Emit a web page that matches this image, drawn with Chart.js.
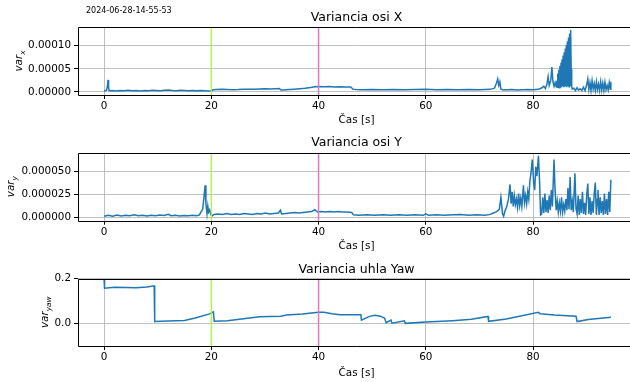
<!DOCTYPE html>
<html>
<head>
<meta charset="utf-8">
<script src="https://cdn.jsdelivr.net/npm/chart.js@4.4.1/dist/chart.umd.min.js"></script>
<style>
  html, body { margin: 0; padding: 0; background: #fff; width: 630px; height: 382px; overflow: hidden; position: relative; }
  .panel { position: absolute; left: 0; width: 640px; }
</style>
</head>
<body>
<div class="panel" style="top:0px;height:130px"><canvas id="chartX" width="640" height="130" style="width:640px;height:130px"></canvas></div>
<div class="panel" style="top:130px;height:126px"><canvas id="chartY" width="640" height="126" style="width:640px;height:126px"></canvas></div>
<div class="panel" style="top:256px;height:126px"><canvas id="chartYaw" width="640" height="126" style="width:640px;height:126px"></canvas></div>
<script>
const FONT = '"DejaVu Sans", sans-serif';
const stamp = '2024-06-28-14-55-53';
const xTicks = [0, 20, 40, 60, 80];
const markerTimes = [20, 40];
const markerColors = ['#adff2f', '#e377c2'];

const ticksX = [0, 0.00005, 0.0001];
const ticksY = [0, 0.000025, 0.00005];
const ticksYaw = [0, 0.2];

// variance of X axis
const timeX = [0, 0.3, 0.5, 0.65, 0.75, 0.85, 0.95, 1.2, 1.5, 2.2, 3, 3.8, 4.5, 5.2, 6, 6.8, 7.5, 8.3, 9, 9.8,
  10.5, 11.3, 12, 12.8, 13.5, 14.3, 15, 15.8, 16.5, 17.3, 18, 18.8, 19.5, 20, 20.3, 21, 22, 23, 24, 25,
  26, 27, 28, 29, 30, 31, 32, 32.7, 33, 33.5, 34.5, 35.5, 36.5, 37.5, 38.5, 39.3, 40, 41, 42, 43,
  44, 45, 46, 46.4, 47, 48, 50, 52, 54, 56, 58, 60, 62, 64, 66, 68, 70, 72, 72.8, 73.2,
  73.4, 73.6, 73.8, 74, 74.5, 75, 76, 77, 78, 79, 80, 81, 81.5, 82, 82.3, 82.6, 82.8, 83, 83.3, 83.5,
  83.7, 83.9, 84.1, 84.3, 84.4, 84.5, 84.6, 84.7, 84.8, 84.9, 85, 85.1, 85.2, 85.3, 85.4, 85.5, 85.6, 85.7, 85.8, 85.9,
  86, 86.1, 86.2, 86.3, 86.4, 86.5, 86.6, 86.7, 86.8, 86.9, 87, 87.1, 87.2, 87.3, 87.6, 87.9, 88.2, 88.5, 88.8, 89.1,
  89.4, 89.7, 90, 90.2, 90.4, 90.6, 90.8, 91, 91.2, 91.4, 91.6, 91.8, 92, 92.2, 92.4, 92.6, 92.8, 93, 93.2, 93.4,
  93.6, 93.8, 94, 94.2, 94.4, 94.5];
const varX = [2e-6, 3e-6, 4e-6, 14e-6, 26e-6, 10e-6, 3e-6, 2e-6, 3e-6, 2e-6, 3e-6, 2.5e-6, 3.5e-6, 2.5e-6, 3e-6, 2e-6, 3e-6, 2.5e-6, 3.5e-6, 3e-6,
  2.5e-6, 3.5e-6, 4e-6, 3e-6, 2.5e-6, 3.5e-6, 3e-6, 2.5e-6, 3e-6, 2.5e-6, 3e-6, 2.5e-6, 2e-6, 2e-6, 4.5e-6, 5e-6, 5.5e-6, 5e-6, 4.5e-6, 5e-6,
  6e-6, 5.5e-6, 6e-6, 6.5e-6, 7e-6, 6.5e-6, 7e-6, 7.5e-6, 4e-6, 4e-6, 5e-6, 6e-6, 7e-6, 8e-6, 9.5e-6, 11e-6, 11.5e-6, 11e-6, 11.5e-6, 10.5e-6,
  11e-6, 10.5e-6, 10.5e-6, 6e-6, 5e-6, 4.5e-6, 5e-6, 4.5e-6, 5e-6, 4.5e-6, 5e-6, 5.5e-6, 4.5e-6, 5e-6, 4.5e-6, 5e-6, 4.5e-6, 5.5e-6, 8e-6, 20e-6,
  28e-6, 14e-6, 22e-6, 6e-6, 4e-6, 4.5e-6, 5e-6, 4e-6, 4.5e-6, 5e-6, 4.5e-6, 5.5e-6, 8e-6, 12e-6, 7e-6, 18e-6, 33e-6, 14e-6, 25e-6, 54e-6,
  22e-6, 12e-6, 20e-6, 11e-6, 24e-6, 10e-6, 40e-6, 10e-6, 48e-6, 9e-6, 56e-6, 11e-6, 63e-6, 10e-6, 71e-6, 12e-6, 79e-6, 10e-6, 86e-6, 11e-6,
  94e-6, 12e-6, 102e-6, 10e-6, 110e-6, 13e-6, 118e-6, 11e-6, 126e-6, 14e-6, 134e-6, 50e-6, 12e-6, 6e-6, 8e-6, 3e-6, 9e-6, 4e-6, 7e-6, 3e-6,
  10e-6, 3e-6, 16e-6, 28e-6, 5e-6, 20e-6, 3e-6, 24e-6, 6e-6, 18e-6, 3e-6, 22e-6, 5e-6, 17e-6, 3e-6, 22e-6, 4e-6, 19e-6, 3e-6, 21e-6,
  5e-6, 14e-6, 4e-6, 20e-6, 6e-6, 22e-6];

// variance of Y axis
const timeY = [0, 0.8, 1.6, 2.4, 3.2, 4, 4.8, 5.6, 6.4, 7.2, 8, 8.8, 9.6, 10.4, 11.2, 12, 12.5, 13.3, 14.1, 14.9,
  15.7, 16.5, 17.3, 17.8, 18.1, 18.4, 18.7, 18.85, 19, 19.2, 19.35, 19.5, 19.7, 19.9, 20.2, 20.5, 21.3, 22.1, 22.9, 23.7,
  24.5, 25.3, 26.1, 26.9, 27.7, 28.5, 29.3, 30.1, 30.9, 31.7, 32.5, 32.9, 33.1, 33.9, 34.7, 35.5, 36.3, 37.1, 37.9, 38.7,
  39.3, 39.8, 40.5, 41.3, 42.1, 42.9, 43.7, 44.5, 45.3, 46.2, 46.5, 47.5, 49, 50.5, 52, 53.5, 55, 56.5, 58, 59.5,
  60, 60.5, 62, 63.5, 65, 66.5, 68, 69.5, 71, 72, 72.6, 73.2, 73.7, 74, 74.3, 74.5, 74.8, 75.1, 75.4, 75.7,
  75.9, 76.1, 76.3, 76.5, 76.7, 76.9, 77.1, 77.3, 77.5, 77.7, 77.9, 78.2, 78.4, 78.6, 78.8, 79, 79.2, 79.4, 79.6, 79.85,
  80.1, 80.3, 80.5, 80.7, 81, 81.2, 81.4, 81.6, 81.8, 82, 82.2, 82.4, 82.6, 82.8, 83, 83.2, 83.4, 83.6, 83.9, 84.1,
  84.3, 84.5, 84.7, 84.9, 85.1, 85.3, 85.5, 85.7, 85.9, 86.1, 86.3, 86.5, 86.7, 86.9, 87.1, 87.3, 87.5, 87.8, 88, 88.2,
  88.4, 88.6, 88.8, 89, 89.2, 89.4, 89.6, 89.8, 90, 90.2, 90.4, 90.6, 90.8, 91, 91.2, 91.4, 91.6, 91.8, 92, 92.1,
  92.3, 92.5, 92.7, 92.9, 93.1, 93.3, 93.5, 93.7, 93.9, 94.1, 94.3, 94.5];
const varY = [1.5e-6, 2.5e-6, 1.5e-6, 2.8e-6, 1.8e-6, 2.5e-6, 2e-6, 3e-6, 2e-6, 2.6e-6, 1.8e-6, 2.5e-6, 2e-6, 2.8e-6, 2.2e-6, 3.5e-6, 2e-6, 2.5e-6, 1.8e-6, 2.4e-6,
  2e-6, 2.6e-6, 2e-6, 3e-6, 6.5e-6, 9e-6, 26e-6, 35e-6, 15e-6, 4e-6, 12.5e-6, 6e-6, 8.5e-6, 3e-6, 2e-6, 3.5e-6, 4e-6, 3.5e-6, 4.5e-6, 3.5e-6,
  4e-6, 3.5e-6, 4.5e-6, 4e-6, 3.5e-6, 4.5e-6, 4e-6, 5e-6, 4e-6, 4.5e-6, 5e-6, 8e-6, 4e-6, 4.5e-6, 5e-6, 5.5e-6, 5e-6, 5.5e-6, 6e-6, 6.5e-6,
  8.5e-6, 6e-6, 6.5e-6, 6e-6, 6.5e-6, 6e-6, 6.5e-6, 6e-6, 6e-6, 5.5e-6, 3e-6, 2.5e-6, 3e-6, 2.5e-6, 3e-6, 2.5e-6, 3e-6, 2.5e-6, 3e-6, 2.5e-6,
  4e-6, 2.5e-6, 3e-6, 2.5e-6, 3e-6, 3.5e-6, 2.5e-6, 3e-6, 2.5e-6, 3.5e-6, 5e-6, 6.5e-6, 9e-6, 22e-6, 4e-6, 1.5e-6, 8e-6, 12e-6, 20e-6, 36e-6,
  15e-6, 28e-6, 12e-6, 24e-6, 14e-6, 20e-6, 11e-6, 26e-6, 13e-6, 21e-6, 12e-6, 35e-6, 16e-6, 24e-6, 15e-6, 28e-6, 20e-6, 40e-6, 48e-6, 63e-6,
  38e-6, 30e-6, 55e-6, 45e-6, 67e-6, 40e-6, 3e-6, 4e-6, 22e-6, 5e-6, 26e-6, 6e-6, 19e-6, 5e-6, 24e-6, 8e-6, 30e-6, 12e-6, 63e-6, 30e-6,
  8e-6, 18e-6, 6e-6, 16e-6, 7e-6, 22e-6, 6e-6, 14e-6, 7e-6, 20e-6, 8e-6, 32e-6, 9e-6, 44e-6, 8e-6, 18e-6, 6e-6, 48e-6, 10e-6, 4e-6,
  24e-6, 3e-6, 20e-6, 5e-6, 28e-6, 4e-6, 16e-6, 3e-6, 25e-6, 37e-6, 4e-6, 22e-6, 3e-6, 18e-6, 5e-6, 26e-6, 38e-6, 3e-6, 20e-6, 30e-6,
  3e-6, 22e-6, 5e-6, 18e-6, 3e-6, 26e-6, 4e-6, 20e-6, 3e-6, 28e-6, 6e-6, 41e-6];

// variance of yaw angle
const timeYaw = [0, 0.1, 1, 2, 4, 6, 8, 9.35, 9.45, 12, 15, 17, 19.7, 20.2, 20.4, 20.55, 23, 26, 29, 33,
  34, 37, 40, 41, 42.5, 44, 47.9, 48, 49.5, 50.5, 51.5, 52.3, 52.6, 53.5, 53.7, 56, 56.2, 60, 65, 68.5,
  71.6, 71.7, 75, 81, 81.3, 84, 88, 88.2, 90.3, 94.5];
const varYaw = [0.2, 0.158, 0.16, 0.162, 0.161, 0.16, 0.163, 0.168, 0.009, 0.011, 0.014, 0.025, 0.043, 0.05, 0.052, 0.01, 0.013, 0.022, 0.03, 0.033,
  0.038, 0.043, 0.05, 0.05, 0.044, 0.039, 0.039, 0.015, 0.032, 0.037, 0.033, 0.025, 0.004, 0.016, 0.002, 0.012, 0.001, 0.007, 0.013, 0.019,
  0.032, 0.01, 0.02, 0.05, 0.044, 0.038, 0.033, 0.009, 0.018, 0.028];

// left, top and bottom spines (the right one lies outside the window)
const framePlugin = {
  id: 'frame',
  afterDraw(chart) {
    const { ctx, chartArea: a } = chart;
    const l = Math.round(a.left) + 0.5, t = Math.round(a.top) + 0.5, b = Math.round(a.bottom) + 0.5;
    ctx.save();
    ctx.strokeStyle = '#000';
    ctx.lineWidth = 1;
    ctx.beginPath();
    ctx.moveTo(a.right, t);
    ctx.lineTo(l, t);
    ctx.lineTo(l, b);
    ctx.lineTo(a.right, b);
    ctx.stroke();
    ctx.restore();
  }
};

// title centred over the plot area, like matplotlib does
const axTitlePlugin = {
  id: 'axTitle',
  afterDraw(chart, args, opts) {
    const { ctx, chartArea: a } = chart;
    ctx.save();
    ctx.fillStyle = '#000';
    ctx.font = '12.5px ' + FONT;
    ctx.textAlign = 'center';
    ctx.textBaseline = 'middle';
    ctx.fillText(opts.text, (a.left + a.right) / 2, opts.y);
    ctx.restore();
  }
};

// y axis label with a subscript, e.g. var_x
const yLabelPlugin = {
  id: 'yLabel',
  afterDraw(chart, args, opts) {
    const { ctx, chartArea: a } = chart;
    const cy = (a.top + a.bottom) / 2;
    const big = 'italic 10.4px ' + FONT;
    const small = 'italic 7.3px ' + FONT;
    ctx.save();
    ctx.translate(opts.x, cy);
    ctx.rotate(-Math.PI / 2);
    ctx.fillStyle = '#000';
    ctx.textBaseline = 'alphabetic';
    ctx.textAlign = 'left';
    ctx.font = big;
    const w1 = ctx.measureText(opts.main).width;
    ctx.font = small;
    const w2 = ctx.measureText(opts.sub).width;
    const x0 = -(w1 + w2) / 2;
    ctx.font = big;
    ctx.fillText(opts.main, x0, 3);
    ctx.font = small;
    ctx.fillText(opts.sub, x0 + w1, 5.5);
    ctx.restore();
  }
};

const stampPlugin = {
  id: 'stamp',
  afterDraw(chart, args, opts) {
    if (!opts.text) return;
    const ctx = chart.ctx;
    ctx.save();
    ctx.fillStyle = '#000';
    ctx.font = '8px ' + FONT;
    ctx.textBaseline = 'middle';
    ctx.textAlign = 'left';
    ctx.fillText(opts.text, 86, 10.7);
    ctx.restore();
  }
};

function makeChart(id, cfg) {
  const points = cfg.t.map((t, i) => ({ x: t, y: cfg.v[i] }));
  const datasets = [{
    data: points,
    borderColor: '#1f77b4',
    borderWidth: 1.5,
    pointRadius: 0,
    tension: 0,
    order: 2
  }];
  markerTimes.forEach((m, i) => {
    datasets.push({
      data: [{ x: m, y: cfg.yMin }, { x: m, y: cfg.yMax }],
      borderColor: markerColors[i],
      borderWidth: i ? 1.5 : 1.2,
      pointRadius: 0,
      order: 1
    });
  });

  const grid = { color: '#b0b0b0', lineWidth: 0.8, drawTicks: true, tickLength: 4, tickColor: '#000', tickWidth: 1 };

  return new Chart(document.getElementById(id), {
    type: 'line',
    data: { datasets: datasets },
    options: {
      responsive: false,
      animation: false,
      events: [],
      layout: { padding: { left: 0, right: 5, top: cfg.plotTop, bottom: 0 } },
      plugins: {
        legend: { display: false },
        tooltip: { enabled: false },
        title: { display: false },
        axTitle: { text: cfg.title, y: cfg.titleY },
        yLabel: { x: cfg.labelX, main: 'var', sub: cfg.sub },
        stamp: { text: cfg.stamp }
      },
      scales: {
        x: {
          type: 'linear',
          min: -4.85,
          max: 99,
          afterBuildTicks: s => { s.ticks = xTicks.map(v => ({ value: v })); },
          afterFit: s => { s.height = cfg.xHeight; s.paddingLeft = 0; s.paddingRight = 0; },
          grid: grid,
          border: { display: false },
          ticks: { color: '#000', font: { family: FONT, size: 10.4 }, padding: 1, maxRotation: 0, autoSkip: false },
          title: {
            display: true,
            text: 'Čas [s]',
            color: '#000',
            font: { family: FONT, size: 10.4 },
            padding: { top: 0, bottom: cfg.xTitlePad }
          }
        },
        y: {
          type: 'linear',
          min: cfg.yMin,
          max: cfg.yMax,
          afterBuildTicks: s => { s.ticks = cfg.yTicks.map(v => ({ value: v })); },
          afterFit: s => { s.width = 78; s.paddingTop = 0; s.paddingBottom = 0; },
          grid: grid,
          border: { display: false },
          ticks: {
            color: '#000',
            font: { family: FONT, size: 10.4 },
            padding: 3,
            callback: v => Number(v).toFixed(cfg.decimals)
          }
        }
      }
    },
    plugins: [framePlugin, axTitlePlugin, yLabelPlugin, stampPlugin]
  });
}

makeChart('chartX', {
  t: timeX, v: varX, title: 'Variancia osi X', sub: 'x', stamp: stamp,
  yMin: -6.7e-6, yMax: 1.407e-4, yTicks: ticksX, decimals: 5,
  plotTop: 27, titleY: 17.5, xHeight: 35, xTitlePad: 3.3, labelX: 19
});
makeChart('chartY', {
  t: timeY, v: varY, title: 'Variancia osi Y', sub: 'y',
  yMin: -3.35e-6, yMax: 7.04e-5, yTicks: ticksY, decimals: 6,
  plotTop: 22.7, titleY: 12.5, xHeight: 35.3, xTitlePad: 3.8, labelX: 11
});
makeChart('chartYaw', {
  t: timeYaw, v: varYaw, title: 'Variancia uhla Yaw', sub: 'yaw',
  yMin: -0.1, yMax: 0.2, yTicks: ticksYaw, decimals: 1,
  plotTop: 22.7, titleY: 13.5, xHeight: 36, xTitlePad: 2.8, labelX: 45
});
</script>
</body>
</html>
